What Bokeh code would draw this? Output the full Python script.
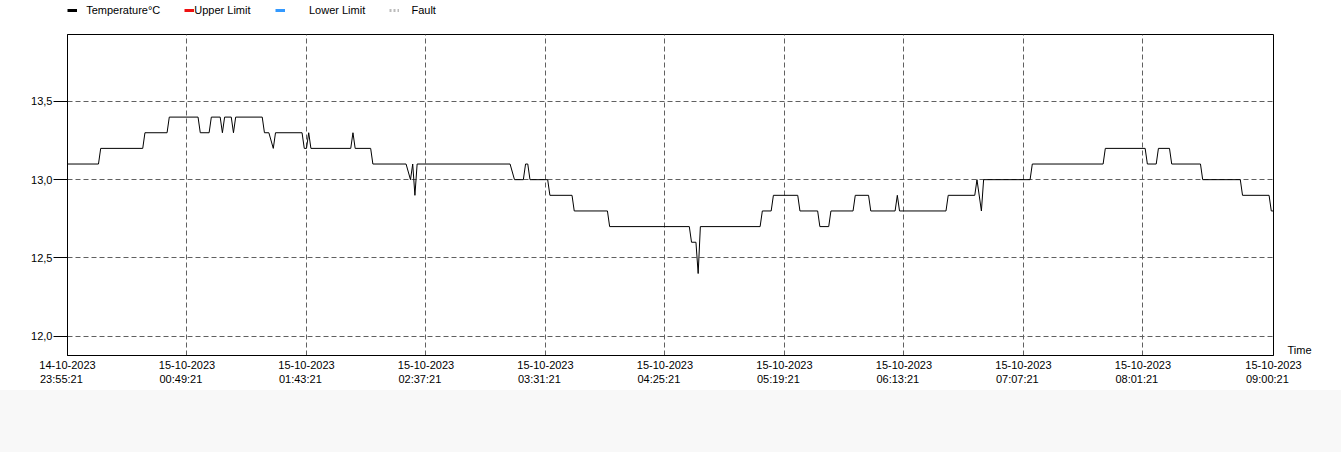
import numpy as np
from bokeh.plotting import figure
from bokeh.models import (Range1d, FixedTicker, CustomJSTickFormatter, Legend,
                          LegendItem, Div, LinearAxis)
from bokeh.layouts import column
from bokeh.embed import file_html
from bokeh.resources import INLINE

# ---- data (minutes after 14-10-2023 23:55:21, temperature in °C) ----
minutes = [0, 14, 15, 34, 35, 45, 46, 59, 60, 64, 65, 69, 70, 71, 74, 75, 76, 88, 89, 91,
           93, 94, 106, 107, 108, 109, 110, 128, 129, 130, 137, 138, 153, 155, 156, 157, 158,
           200, 202, 206, 207, 208, 209, 217, 218, 228, 229, 244, 245, 281, 282, 284, 285,
           286, 313, 314, 318, 319, 330, 331, 339, 340, 344, 345, 355, 356, 362, 363, 374,
           375, 376, 397, 398, 410, 411, 413, 414, 435, 436, 468, 469, 487, 488, 492, 493,
           498, 499, 512, 513, 530, 531, 543, 544, 545]
temps = [13.1, 13.1, 13.2, 13.2, 13.3, 13.3, 13.4, 13.4, 13.3, 13.3, 13.4, 13.4, 13.3, 13.4,
         13.4, 13.3, 13.4, 13.4, 13.3, 13.3, 13.2, 13.3, 13.3, 13.2, 13.2, 13.3, 13.2, 13.2,
         13.3, 13.2, 13.2, 13.1, 13.1, 13.0, 13.1, 12.9, 13.1, 13.1, 13.0, 13.0, 13.1, 13.1,
         13.0, 13.0, 12.9, 12.9, 12.8, 12.8, 12.7, 12.7, 12.6, 12.6, 12.4, 12.7, 12.7, 12.8,
         12.8, 12.9, 12.9, 12.8, 12.8, 12.7, 12.7, 12.8, 12.8, 12.9, 12.9, 12.8, 12.8, 12.9,
         12.8, 12.8, 12.9, 12.9, 13.0, 12.8, 13.0, 13.0, 13.1, 13.1, 13.2, 13.2, 13.1, 13.1,
         13.2, 13.2, 13.1, 13.1, 13.0, 13.0, 12.9, 12.9, 12.8, 12.8]

x_tick_minutes = [0, 54, 108, 162, 216, 270, 324, 378, 432, 486, 545]
x_tick_dates = ["14-10-2023"] + ["15-10-2023"] * 10
x_tick_times = ["23:55:21", "00:49:21", "01:43:21", "02:37:21", "03:31:21", "04:25:21",
                "05:19:21", "06:13:21", "07:07:21", "08:01:21", "09:00:21"]
y_ticks = [12.0, 12.5, 13.0, 13.5]

legend_labels = ["Temperature°C", "Upper Limit", "Lower Limit", "Fault"]
legend_prefix = [3, 0, 8, 4]
legend_colors = ["#000000", "#ee1111", "#3399ff", "#bbbbbb"]
x_axis_name = "Time"

FONT = "Liberation Sans"
Y_MIN, Y_MAX = 11.876, 13.928
NBSP = "\u00a0"

# ---------------- legend strip ----------------
lf = figure(width=1341, height=26, x_range=Range1d(0, 1), y_range=Range1d(0, 1),
            output_backend="svg", toolbar_location=None,
            x_axis_location=None, y_axis_location=None,
            min_border_left=0, min_border_right=0, min_border_top=0, min_border_bottom=0)
lf.outline_line_color = None
lf.grid.visible = False
lf.background_fill_color = "white"
lf.border_fill_color = "white"

items = []
for lbl, pre, col in zip(legend_labels, legend_prefix, legend_colors):
    dash = "2 2" if lbl == "Fault" else "solid"
    r = lf.line(x=np.array([np.nan]), y=np.array([np.nan]), line_color=col,
                line_width=3, line_dash=dash)
    items.append(LegendItem(label=NBSP * pre + lbl, renderers=[r]))

legend = Legend(items=items, location=(0, 10), orientation="horizontal",
                padding=0, margin=0, spacing=24, label_standoff=0,
                glyph_width=10, glyph_height=10, label_height=12,
                background_fill_alpha=0, border_line_alpha=0,
                label_text_font=FONT, label_text_font_size="11px",
                label_text_color="black")
lf.add_layout(legend)

# ---------------- main chart ----------------
p = figure(width=1341, height=364, x_range=Range1d(0, 545), y_range=Range1d(Y_MIN, Y_MAX),
           output_backend="svg", toolbar_location=None,
           min_border_left=67, min_border_right=68, min_border_top=8, min_border_bottom=35)

p.outline_line_color = "black"
p.outline_line_alpha = 1.0
p.background_fill_color = "white"
p.border_fill_color = "white"

# x axis (two-line labels, left-aligned look)
p.xaxis.ticker = FixedTicker(ticks=x_tick_minutes)
p.xaxis.major_label_overrides = {m: d + "\n" + t + NBSP * 4
                                 for m, d, t in zip(x_tick_minutes, x_tick_dates, x_tick_times)}
p.xaxis.major_tick_out = 0
p.xaxis.major_tick_in = 0
p.xaxis.minor_tick_line_color = None
p.xaxis.major_label_standoff = 3
p.xaxis.axis_line_color = "black"

# y axis
p.yaxis.ticker = FixedTicker(ticks=y_ticks)
p.yaxis.formatter = CustomJSTickFormatter(code="return tick.toFixed(1).replace('.', ',');")
p.yaxis.major_tick_out = 14
p.yaxis.major_tick_in = 0
p.yaxis.major_tick_line_color = "black"
p.yaxis.minor_tick_line_color = None
p.yaxis.major_label_standoff = 1
p.yaxis.axis_line_color = "black"

for ax in (p.xaxis, p.yaxis):
    ax.major_label_text_font = FONT
    ax.major_label_text_font_size = "11px"
    ax.major_label_text_color = "black"

for g in (p.xgrid, p.ygrid):
    g.grid_line_color = "#606060"
    g.grid_line_dash = "5 3"
    g.grid_line_width = 1

p.line(minutes, temps, line_color="black", line_width=1)

# "Time" caption at the right end of the x axis: single label of an empty right axis
time_tick = Y_MIN + 0.032
time_axis = LinearAxis(ticker=FixedTicker(ticks=[time_tick]),
                       formatter=CustomJSTickFormatter(code="return '%s';" % x_axis_name),
                       axis_line_color=None, major_tick_line_color=None,
                       minor_tick_line_color=None, major_tick_out=0, major_tick_in=0,
                       major_label_standoff=14,
                       major_label_text_font=FONT, major_label_text_font_size="11px",
                       major_label_text_color="black")
p.add_layout(time_axis, "right")

footer = Div(text="", width=1341, height=62, margin=(0, 0, 0, 0),
             styles={"background-color": "#f8f8f8"})

layout = column(lf, p, footer, spacing=0)

open("out.html", "w").write(file_html(layout, INLINE))
